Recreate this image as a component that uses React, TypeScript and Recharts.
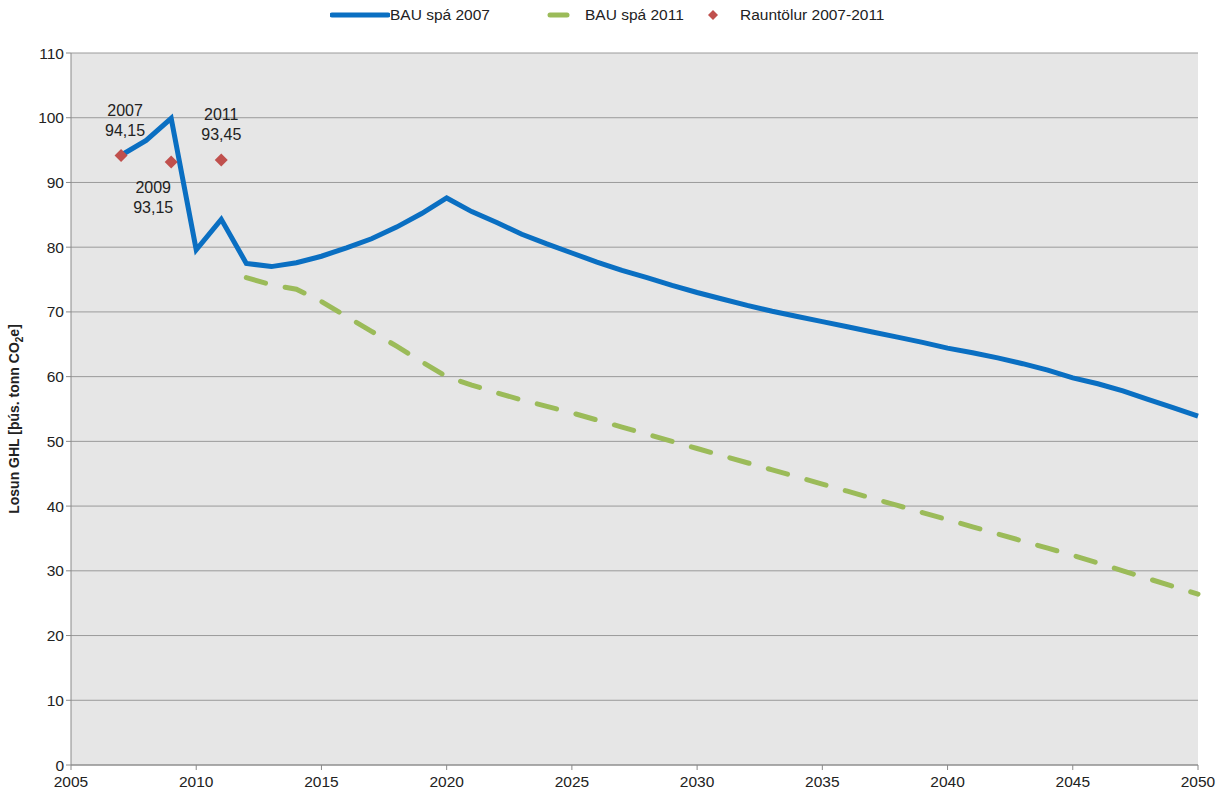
import React from "react";
import {
  ComposedChart,
  Line,
  CartesianGrid,
  XAxis,
  YAxis,
  LabelList
} from "recharts";

const years = Array.from({ length: 44 }, (_, i) => 2007 + i);

const bau2007 = [
  94.2, 96.5, 99.9, 79.6, 84.3, 77.5, 77.0, 77.6, 78.6, 79.9,
  81.3, 83.1, 85.2, 87.6, 85.5, 83.8, 82.0, 80.5, 79.1, 77.7,
  76.4, 75.3, 74.1, 73.0, 72.0, 71.0, 70.1, 69.3, 68.5, 67.7,
  66.9, 66.1, 65.3, 64.4, 63.7, 62.9, 62.0, 61.0, 59.8, 58.9,
  57.8, 56.5, 55.2, 53.9
];

// BAU spá 2011 starts in 2012
const bau2011 = [
  null, null, null, null, null,
  75.3, 74.2, 73.5, 71.6, 69.3, 67.0, 64.7, 62.3, 60.0, 58.7,
  57.5, 56.4, 55.4, 54.4, 53.3, 52.2, 51.1, 50.0, 48.9, 47.8,
  46.7, 45.6, 44.5, 43.4, 42.3, 41.2, 40.1, 39.0, 37.9, 36.8,
  35.7, 34.6, 33.5, 32.4, 31.2, 30.0, 28.8, 27.6, 26.4
];

const raunYears = [2007, 2009, 2011];
const raunValues = [94.15, 93.15, 93.45];

const xTicks = [2005, 2010, 2015, 2020, 2025, 2030, 2035, 2040, 2045, 2050];
const yTicks = [0, 10, 20, 30, 40, 50, 60, 70, 80, 90, 100, 110];

const data = years.map((year, i) => {
  const r = raunYears.indexOf(year);
  return {
    year,
    bau2007: bau2007[i],
    bau2011: bau2011[i],
    raun: r >= 0 ? raunValues[r] : null
  };
});

const FONT = "'Liberation Sans', Arial, sans-serif";
const BLUE = "#0a6fc2";
const GREEN = "#9bbb59";
const RED = "#c0504d";

function Diamond(props: any) {
  const { cx, cy, value } = props;
  if (value == null || cx == null || cy == null) return null;
  const s = 6.5;
  return (
    <path
      d={`M${cx},${cy - s} L${cx + s},${cy} L${cx},${cy + s} L${cx - s},${cy} Z`}
      fill={RED}
    />
  );
}

function RaunLabel(props: any) {
  const { x, y, value, index } = props;
  if (value == null) return null;
  const year = data[index].year;
  const text = value.toFixed(2).replace(".", ",");
  const below = year === 2009;
  const dx = year === 2007 ? 4 : year === 2011 ? 0 : -18;
  const ty = below ? y + 31 : y - 40;
  return (
    <text x={x + dx} y={ty} textAnchor="middle" fontFamily={FONT} fontSize={16} fill="#222">
      <tspan x={x + dx} dy={0}>{year}</tspan>
      <tspan x={x + dx} dy={20}>{text}</tspan>
    </text>
  );
}

function YLabel(props: any) {
  const { viewBox } = props;
  const cx = 19;
  const cy = viewBox.y + viewBox.height / 2 + 10;
  return (
    <text
      x={cx}
      y={cy}
      transform={`rotate(-90 ${cx} ${cy})`}
      textAnchor="middle"
      fontFamily={FONT}
      fontSize={14}
      fontWeight="bold"
      fill="#222"
    >
      Losun GHL [þús. tonn CO
      <tspan fontSize={10} dy={4}>2</tspan>
      <tspan dy={-4}>e]</tspan>
    </text>
  );
}

function LegendBar() {
  const item: React.CSSProperties = { display: "flex", alignItems: "center" };
  return (
    <div
      style={{
        position: "absolute",
        top: 6,
        left: 330,
        display: "flex",
        fontFamily: FONT,
        fontSize: 15.5,
        color: "#222"
      }}
    >
      <div style={{ ...item, width: 200 }}>
        <svg width={60} height={10}>
          <line x1={2} y1={5} x2={58} y2={5} stroke={BLUE} strokeWidth={5} strokeLinecap="round" />
        </svg>
        <span>BAU spá 2007</span>
      </div>
      <div style={{ ...item, width: 170 }}>
        <svg width={55} height={10}>
          <line x1={20} y1={5} x2={37} y2={5} stroke={GREEN} strokeWidth={5} strokeLinecap="round" />
        </svg>
        <span>BAU spá 2011</span>
      </div>
      <div style={item}>
        <svg width={40} height={12}>
          <path d="M13,1 L18,6 L13,11 L8,6 Z" fill={RED} />
        </svg>
        <span>Rauntölur 2007-2011</span>
      </div>
    </div>
  );
}

export default function App() {
  return (
    <div style={{ position: "absolute", left: 0, top: 0, width: 1223, height: 795, background: "#fff" }}>
      <LegendBar />
      <ComposedChart
        width={1223}
        height={795}
        data={data}
        margin={{ top: 53, right: 25, left: 0, bottom: 0 }}
      >
        <CartesianGrid vertical={false} stroke="#9a9a9a" fill="#e6e6e6" />
        <XAxis
          dataKey="year"
          type="number"
          domain={[2005, 2050]}
          ticks={xTicks}
          interval={0}
          stroke="#8a8a8a"
          tick={{ fill: "#222", fontSize: 15.5, fontFamily: FONT }}
          tickSize={5}
          tickMargin={6}
          height={30}
        />
        <YAxis
          type="number"
          domain={[0, 110]}
          ticks={yTicks}
          interval={0}
          stroke="#8a8a8a"
          width={71}
          tick={{ fill: "#222", fontSize: 15.5, fontFamily: FONT }}
          tickSize={5}
          label={<YLabel />}
        />
        <Line
          dataKey="bau2011"
          stroke={GREEN}
          strokeWidth={5}
          strokeDasharray="20 20"
          strokeLinecap="round"
          dot={false}
          activeDot={false}
          isAnimationActive={false}
        />
        <Line
          dataKey="bau2007"
          stroke={BLUE}
          strokeWidth={5}
          strokeLinejoin="miter"
          dot={false}
          activeDot={false}
          isAnimationActive={false}
        />
        <Line
          dataKey="raun"
          stroke="none"
          dot={<Diamond />}
          activeDot={false}
          connectNulls={false}
          isAnimationActive={false}
        >
          <LabelList dataKey="raun" content={<RaunLabel />} />
        </Line>
      </ComposedChart>
    </div>
  );
}
